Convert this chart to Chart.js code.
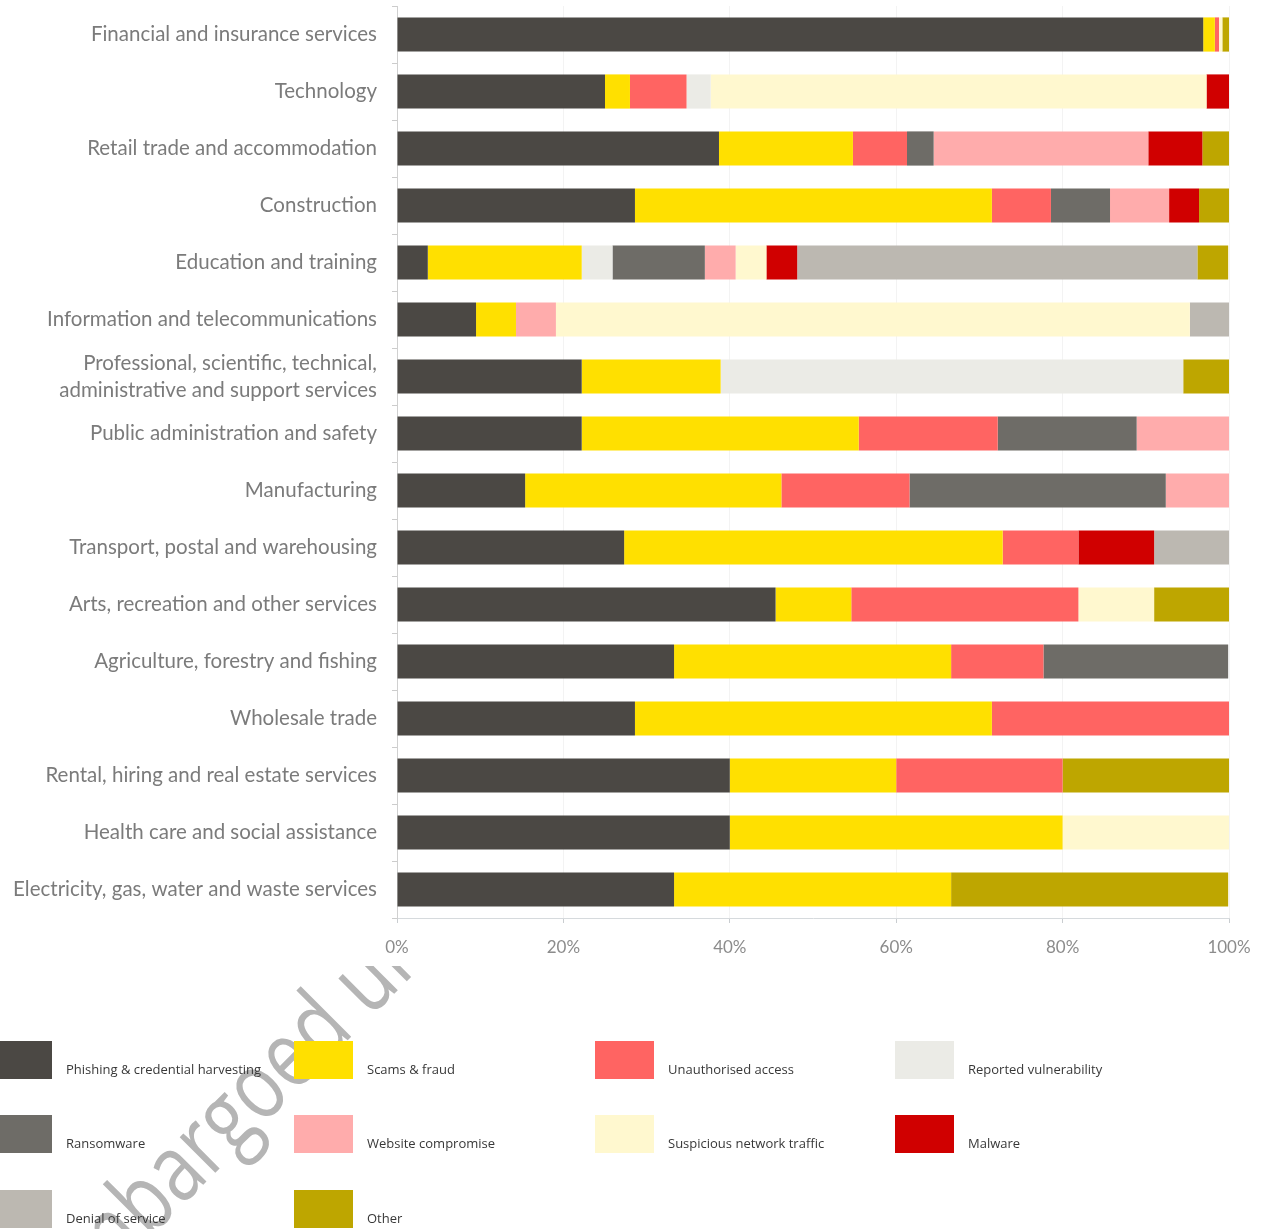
<!DOCTYPE html>
<html lang="en">
<head>
<meta charset="utf-8">
<title>Incidentes por sector</title>
<script src="https://cdn.jsdelivr.net/npm/chart.js@4.4.1/dist/chart.umd.min.js"></script>
<style>
    html, body { margin: 0; padding: 0; background: #ffffff; }
    body { width: 1271px; height: 1229px; position: relative; overflow: hidden; }
    #fondo { position: absolute; left: 0; top: 0; z-index: 0; }
    #grafico { position: absolute; left: 0; top: 0; width: 1271px; height: 966px; background: #ffffff; z-index: 1; }
    #grafico canvas { filter: blur(0.6px); }
    #leyenda { position: absolute; left: 0; top: 0; width: 1271px; height: 1229px; z-index: 2; pointer-events: none; }
    .ley-item { position: absolute; }
    .ley-color { position: absolute; width: 59px; height: 38px; }
    .ley-texto { position: absolute; font-family: "Open Sans", sans-serif; font-size: 13px; color: #383838; white-space: nowrap; }
</style>
</head>
<body>
<canvas id="fondo" width="1271" height="1229"></canvas>
<div id="grafico"><canvas id="chartSectores" width="1271" height="966"></canvas></div>
<div id="leyenda"></div>

<script>
// ==========================================================================
// Incidentes por sector - barras horizontales apiladas al 100%
// ==========================================================================

// ---- Sectores (de arriba a abajo) ----
const sectores = [
    'Financial and insurance services',
    'Technology',
    'Retail trade and accommodation',
    'Construction',
    'Education and training',
    'Information and telecommunications',
    ['Professional, scientific, technical,', 'administrative and support services'],
    'Public administration and safety',
    'Manufacturing',
    'Transport, postal and warehousing',
    'Arts, recreation and other services',
    'Agriculture, forestry and fishing',
    'Wholesale trade',
    'Rental, hiring and real estate services',
    'Health care and social assistance',
    'Electricity, gas, water and waste services'
];

// ---- Porcentaje de cada tipo de incidente por sector ----
const phishing     = [96.9, 25.0, 38.7, 28.6,  3.7,  9.5, 22.2, 22.2, 15.4, 27.3, 45.5, 33.3, 28.6, 40.0, 40.0, 33.3];
const estafas      = [ 1.4,  3.0, 16.1, 42.9, 18.5,  4.8, 16.7, 33.3, 30.8, 45.5,  9.1, 33.3, 42.9, 20.0, 40.0, 33.3];
const noAutorizado = [ 0.5,  6.8,  6.5,  7.1,  0,    0,    0,   16.7, 15.4,  9.1, 27.3, 11.1, 28.6, 20.0,  0,    0  ];
const vulnerab     = [ 0,    2.9,  0,    0,    3.7,  0,   55.6,  0,    0,    0,    0,    0,    0,    0,    0,    0  ];
const ransomware   = [ 0,    0,    3.2,  7.1, 11.1,  0,    0,   16.7, 30.8,  0,    0,   22.2,  0,    0,    0,    0  ];
const webComprom   = [ 0,    0,   25.8,  7.1,  3.7,  4.8,  0,   11.1,  7.7,  0,    0,    0,    0,    0,    0,    0  ];
const traficoSosp  = [ 0.4, 59.6,  0,    0,    3.7, 76.2,  0,    0,    0,    0,    9.1,  0,    0,    0,   20.0,  0  ];
const malware      = [ 0,    2.7,  6.5,  3.6,  3.7,  0,    0,    0,    0,    9.1,  0,    0,    0,    0,    0,    0  ];
const denegacion   = [ 0,    0,    0,    0,   48.1,  4.8,  0,    0,    0,    9.1,  0,    0,    0,    0,    0,    0  ];
const otros        = [ 0.8,  0,    3.2,  3.6,  3.7,  0,    5.6,  0,    0,    0,    9.1,  0,    0,   20.0,  0,   33.3];

// ---- Marcas del eje X ----
const marcasX = [0, 20, 40, 60, 80, 100];

// ---- Series: nombre, datos y color ----
const series = [
    { label: 'Phishing & credential harvesting', data: phishing,     color: '#4b4844' },
    { label: 'Scams & fraud',                    data: estafas,      color: '#ffe000' },
    { label: 'Unauthorised access',              data: noAutorizado, color: '#ff6462' },
    { label: 'Reported vulnerability',           data: vulnerab,     color: '#ebebe6' },
    { label: 'Ransomware',                       data: ransomware,   color: '#6e6c67' },
    { label: 'Website compromise',               data: webComprom,   color: '#ffacac' },
    { label: 'Suspicious network traffic',       data: traficoSosp,  color: '#fff8cf' },
    { label: 'Malware',                          data: malware,      color: '#d00000' },
    { label: 'Denial of service',                data: denegacion,   color: '#bcb8b1' },
    { label: 'Other',                            data: otros,        color: '#bea600' }
];

// ========================================================================
// MARCA DE AGUA (debajo del gráfico y de la leyenda)
// ========================================================================
const fondo = document.getElementById('fondo').getContext('2d');
fondo.save();
fondo.translate(70, 1318);
fondo.rotate(-Math.PI / 4);
fondo.scale(0.8, 1);
fondo.font = '500 94px "Open Sans"';
fondo.fillStyle = '#b5b5b5';
fondo.fillText('Embargoed until', 0, 0);
fondo.restore();

// ========================================================================
// GRÁFICO
// ========================================================================
Chart.defaults.font.family = 'Lato, sans-serif';

const ctx = document.getElementById('chartSectores').getContext('2d');
new Chart(ctx, {
    type: 'bar',
    data: {
        labels: sectores,
        datasets: series.map(s => ({
            label: s.label,
            data: s.data,
            backgroundColor: s.color,
            borderWidth: 0,
            barPercentage: 0.6,
            categoryPercentage: 1
        }))
    },
    options: {
        indexAxis: 'y',
        responsive: false,
        animation: false,
        layout: { padding: { top: 6, right: 42, bottom: 0, left: 0 } },
        plugins: {
            legend: { display: false },
            tooltip: { enabled: false }
        },
        scales: {
            x: {
                stacked: true,
                min: 0,
                max: 100,
                afterBuildTicks: (eje) => { eje.ticks = marcasX.map(v => ({ value: v })); },
                afterFit: (eje) => { eje.height = 48; },
                border: { color: '#d6dadd' },
                grid: { color: '#f3f3f3', tickColor: '#c9cdd0', tickLength: 5 },
                ticks: {
                    padding: 14,
                    color: '#8c8c8c',
                    font: { size: 17 },
                    callback: (v) => v + '%'
                }
            },
            y: {
                stacked: true,
                // ancho fijo del eje y sin margen extra arriba/abajo
                afterFit: (eje) => {
                    eje.width = 397;
                    eje.paddingTop = 0;
                    eje.paddingBottom = 0;
                },
                border: { color: '#d0d0d0' },
                grid: { drawOnChartArea: false, tickColor: '#cccccc', tickLength: 5 },
                ticks: {
                    autoSkip: false,
                    padding: 15,
                    color: '#7b7b7b',
                    font: { size: 20.5, lineHeight: 1.32 }
                }
            }
        }
    }
});

// ========================================================================
// LEYENDA (4 columnas)
// ========================================================================
const leyenda = document.getElementById('leyenda');
const columnasX = [-7, 294, 595, 895];
const filasY = [1041, 1115, 1190];

series.forEach((s, i) => {
    const x = columnasX[i % 4];
    const y = filasY[Math.floor(i / 4)];
    const item = document.createElement('div');
    item.className = 'ley-item';
    item.style.left = x + 'px';
    item.style.top = y + 'px';
    item.innerHTML = `
        <div class="ley-color" style="background:${s.color}"></div>
        <div class="ley-texto" style="left:73px; top:19px">${s.label.replace('&', '&amp;')}</div>`;
    leyenda.appendChild(item);
});
</script>
</body>
</html>
